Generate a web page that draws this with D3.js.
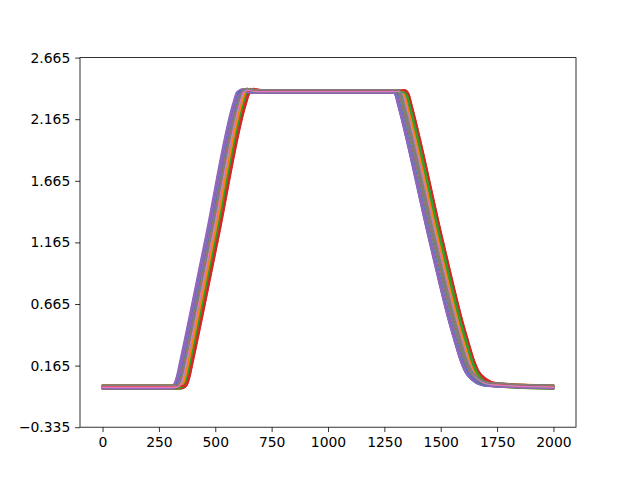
<!DOCTYPE html>
<html>
<head>
<meta charset="utf-8">
<script src="https://cdn.jsdelivr.net/npm/d3@7"></script>
<style>
body { margin: 0; background: #fff; }
svg { display: block; }
text { font-family: "DejaVu Sans", sans-serif; }
</style>
</head>
<body>
<svg id="chart" width="640" height="480"></svg>
<script>
// ---- data ----
// knots of the left-most trace: rising edge part
const riseX = [0, 300, 316, 328, 340, 455, 580, 595, 615, 650];
const riseY = [-0.01, -0.01, 0.01, 0.07, 0.17, 1.19, 2.30, 2.38, 2.40, 2.39];
// knots of the left-most trace: falling edge part
const fallX = [1283, 1295, 1310, 1446, 1538, 1560, 1583, 1608, 1638, 1690, 2000];
const fallY = [2.39, 2.37, 2.27, 1.19, 0.5, 0.36, 0.22, 0.11, 0.05, 0.01, -0.01];
// per-trace offsets (x shift of rise, x shift of fall, small level offset)
const riseShift = [2, 36, 44, 53, 0, 16, 27, 16, 19, 30,
                   5, 39, 47, 56, 3, 19, 30, 19, 22, 33,
                   8, 42, 50, 58, 6, 22, 33, 22, 25, 29,
                   11, 38, 46, 55, 10, 25, 29, 25];
const fallShift = [2, 40, 48, 58, 0, 18, 30, 18, 21, 33,
                   5, 43, 52, 62, 3, 21, 33, 21, 24, 36,
                   9, 46, 55, 64, 7, 24, 36, 24, 28, 32,
                   12, 42, 51, 61, 11, 28, 32, 28];
const levelShift = [0.0, -0.015, 0.01, 0.015, 0.005, 0.01, -0.01, 0.01, -0.01, 0.0,
                    -0.01, 0.015, -0.015, -0.01, -0.005, -0.01, 0.0, -0.01, 0.0, 0.01,
                    0.008, -0.005, 0.005, -0.005, 0.012, 0.0, 0.01, 0.0, 0.015, 0.0,
                    -0.008, 0.005, -0.005, 0.01, -0.012, 0.015, 0.0, 0.015];
const xTicks = [0, 250, 500, 750, 1000, 1250, 1500, 1750, 2000];
const yTicks = [-0.335, 0.165, 0.665, 1.165, 1.665, 2.165, 2.665];
const palette = ["#1f77b4", "#ff7f0e", "#2ca02c", "#d62728", "#9467bd",
                 "#8c564b", "#e377c2", "#7f7f7f", "#bcbd22", "#17becf"];

// ---- build traces ----
const traces = riseShift.map((rs, i) => {
  const pts = [];
  riseX.forEach((x, k) => pts.push([k === 0 ? x : x + rs, riseY[k] + levelShift[i]]));
  fallX.forEach((x, k) => pts.push([k === fallX.length - 1 ? x : x + fallShift[i], fallY[k] + levelShift[i]]));
  return pts;
});

// ---- layout ----
const svg = d3.select("#chart");
const L = 80, R = 576, T = 57.6, B = 427.2;
const x = d3.scaleLinear().domain([-100, 2100]).range([L, R]);
const y = d3.scaleLinear().domain([-0.335, 2.665]).range([B, T]);

const line = d3.line().x(d => x(d[0])).y(d => y(d[1])).curve(d3.curveMonotoneX);

svg.append("clipPath").attr("id", "clip")
  .append("rect").attr("x", L).attr("y", T).attr("width", R - L).attr("height", B - T);

svg.append("g").attr("clip-path", "url(#clip)")
  .selectAll("path").data(traces).join("path")
  .attr("d", line)
  .attr("fill", "none")
  .attr("stroke", (d, i) => palette[i % 10])
  .attr("stroke-width", 1.5)
  .attr("stroke-linejoin", "round")
  .attr("stroke-linecap", "square");

const fmt = v => (v < 0 ? "\u2212" : "") + Math.abs(v).toFixed(3);

const xAxis = svg.append("g").attr("transform", `translate(0,${B})`)
  .call(d3.axisBottom(x).tickValues(xTicks).tickSize(4.86).tickPadding(4.86).tickFormat(d3.format("d")));
const yAxis = svg.append("g").attr("transform", `translate(${L},0)`)
  .call(d3.axisLeft(y).tickValues(yTicks).tickSize(4.86).tickPadding(4.86).tickFormat(fmt));
[xAxis, yAxis].forEach(g => {
  g.select(".domain").remove();
  g.selectAll("line").attr("stroke", "#000").attr("stroke-width", 0.8);
  g.selectAll("text").attr("font-size", "13.9px").attr("fill", "#000")
    .attr("font-family", "DejaVu Sans, sans-serif");
});

svg.append("rect").attr("x", L).attr("y", T).attr("width", R - L).attr("height", B - T)
  .attr("fill", "none").attr("stroke", "#000").attr("stroke-width", 0.8);
</script>
</body>
</html>
